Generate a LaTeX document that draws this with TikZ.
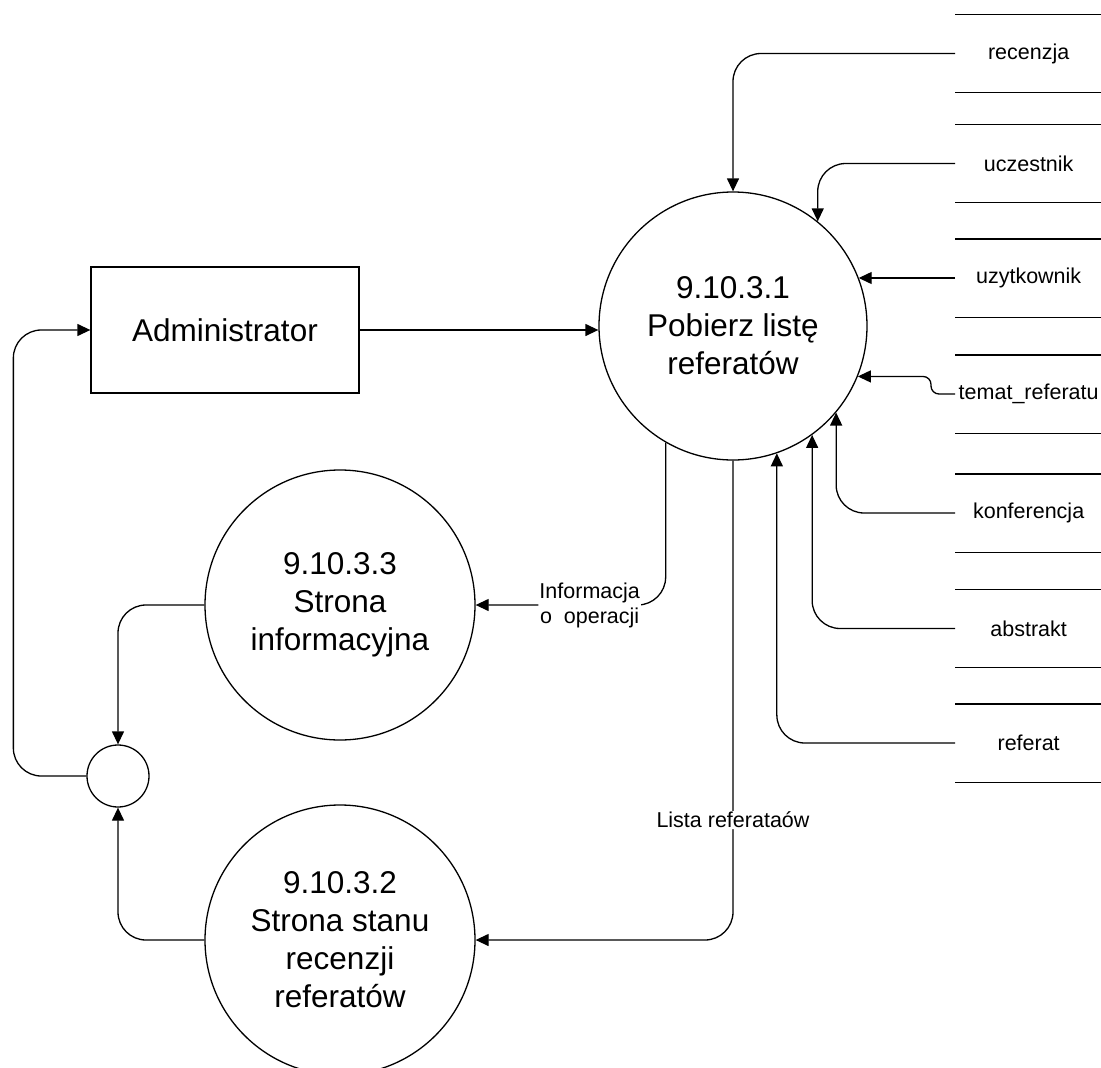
\documentclass[tikz,border=0pt]{standalone}
\usepackage{fontspec}
\setmainfont{Liberation Sans}
\usetikzlibrary{arrows.meta,positioning}

\begin{document}
\begin{tikzpicture}[
        x=1pt, y=-1pt,
        line width=1.3pt,
        bigtext/.style={font=\fontsize{31.5}{38}\selectfont, align=center},
        smalltext/.style={font=\fontsize{21.5}{25}\selectfont, align=center},
        process/.style={draw, circle, bigtext, minimum size=270pt, inner sep=0pt},
        entity/.style={draw, rectangle, bigtext, minimum width=268pt, minimum height=126pt},
        store/.style={smalltext, anchor=west, minimum width=146pt, minimum height=77pt, inner sep=0pt},
        joint/.style={draw, circle, minimum size=62pt, inner sep=0pt},
        flowlabel/.style={smalltext, fill=white, inner sep=1pt},
        line/.style={-{Triangle[length=13pt, width=12pt]}, rounded corners=28pt}
    ]
        \clip (0,0) rectangle (1101,1068);

        \node[entity] (admin) at (225,330) {Administrator};
        \node[process, minimum size=268pt] (c1) at (733,326) {9.10.3.1\\Pobierz listę\\referatów};
        \node[process] (c3) at (340,605) {9.10.3.3\\Strona\\informacyjna};
        \node[process] (c2) at (340,940) {9.10.3.2\\Strona stanu\\recenzji\\referatów};
        \node[joint] (joint) at (118,776) {};

        \node[store] (recenzja) at (955,53.5) {recenzja};
        \node[store] (uczestnik) at (955,163.5) {uczestnik};
        \node[store] (uzytkownik) at (955,278) {uzytkownik};
        \node[store] (temat) at (955,394) {temat\_referatu};
        \node[store] (konferencja) at (955,513) {konferencja};
        \node[store] (abstrakt) at (955,628.5) {abstrakt};
        \node[store] (referat) at (955,743) {referat};

        % magazyny danych
        \draw (recenzja.north west) -- (recenzja.north east) (recenzja.south west) -- (recenzja.south east);
        \draw (uczestnik.north west) -- (uczestnik.north east) (uczestnik.south west) -- (uczestnik.south east);
        \draw (uzytkownik.north west) -- (uzytkownik.north east) (uzytkownik.south west) -- (uzytkownik.south east);
        \draw (temat.north west) -- (temat.north east) (temat.south west) -- (temat.south east);
        \draw (konferencja.north west) -- (konferencja.north east) (konferencja.south west) -- (konferencja.south east);
        \draw (abstrakt.north west) -- (abstrakt.north east) (abstrakt.south west) -- (abstrakt.south east);
        \draw (referat.north west) -- (referat.north east) (referat.south west) -- (referat.south east);

        \draw[line] (recenzja.west) -| (c1.north);
        \draw[line] (uczestnik.west) -| (c1.51);
        \draw[line] (uzytkownik.west) -- (uzytkownik.west -| c1.21);
        \draw[line, rounded corners=8pt] (temat.west) -- ++(-24,0) |- (c1.-22);
        \draw[line] (konferencja.west) -| (c1.-40);
        \draw[line] (abstrakt.west) -| (c1.-54);
        \draw[line] (referat.west) -| (c1.-71);

        \draw[line] (admin.east) -- (admin.east -| c1.west);
        \draw[line] (c1.-120) |- node[flowlabel, pos=0.7] {Informacja\\o~~operacji} (c3.east);
        \draw[line] (c1.south) |- node[flowlabel, pos=0.375] {Lista referataów} (c2.east);

        \draw[line] (c3.west) -| (joint.north);
        \draw[line] (c2.west) -| (joint.south);
        \draw[line] (joint.west) -- ++(-73,0) |- (admin.west);
    \end{tikzpicture}
\end{document}
